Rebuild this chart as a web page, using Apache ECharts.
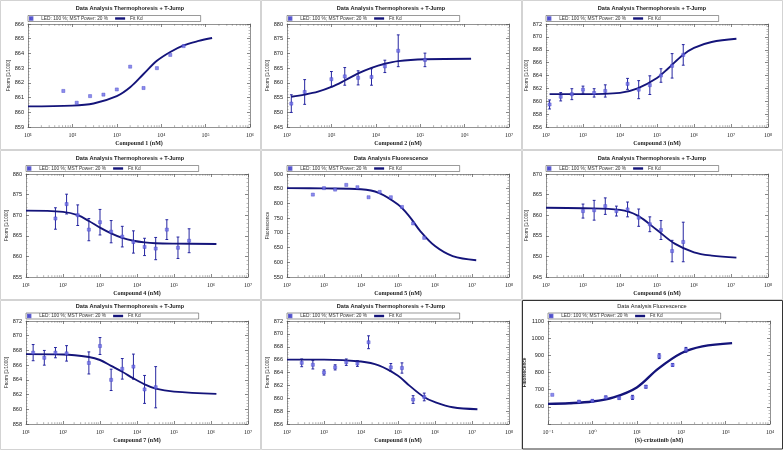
<!DOCTYPE html>
<html><head><meta charset="utf-8">
<script src="https://cdn.jsdelivr.net/npm/echarts@6/dist/echarts.min.js"></script>
<style>html,body{margin:0;padding:0;background:#fff}#c{width:783px;height:450px}</style>
</head><body><div id="c"></div>
<script>
// ---------- data ----------
const titles = ['Data Analysis Thermophoresis + T-Jump','Data Analysis Thermophoresis + T-Jump','Data Analysis Thermophoresis + T-Jump',
  'Data Analysis Thermophoresis + T-Jump','Data Analysis Fluorescence','Data Analysis Thermophoresis + T-Jump',
  'Data Analysis Thermophoresis + T-Jump','Data Analysis Thermophoresis + T-Jump','Data Analysis Fluorescence'];
const xNames = ['Compound 1 (nM)','Compound 2 (nM)','Compound 3 (nM)','Compound 4 (nM)','Compound 5 (nM)',
  'Compound 6 (nM)','Compound 7 (nM)','Compound 8 (nM)','(S)-crizotinib (nM)'];
const yNames = ['Fnorm [1/1000]','Fnorm [1/1000]','Fnorm [1/1000]','Fnorm [1/1000]','Fluorescence',
  'Fnorm [1/1000]','Fnorm [1/1000]','Fnorm [1/1000]','Fluorescence'];
const xMin = [1e1, 1e2, 1e2, 1e1, 1e2, 1e2, 1e1, 1e2, 1e-1];
const xMax = [1e6, 1e7, 1e8, 1e7, 1e8, 1e8, 1e7, 1e8, 1e4];
const yMin = [859, 845, 856, 855, 550, 845, 858, 856, 500];
const yMax = [866, 880, 872, 880, 900, 870, 872, 872, 1100];
const yStep = [1, 5, 2, 5, 50, 5, 2, 2, 100];

const c1X = [62.5, 125, 250, 500, 1000, 2000, 4000, 8000, 16000, 32000];
const c1Y = [861.45, 860.65, 861.1, 861.2, 861.55, 863.1, 861.65, 863.0, 863.9, 864.5];
const c1E = [];
const c1FitX = [10, 100, 300, 1000, 2000, 4000, 8000, 16000, 32000, 70000, 140000];
const c1FitY = [860.4, 860.45, 860.6, 861.1, 861.7, 862.6, 863.5, 864.1, 864.55, 864.85, 865.05];

const c2X = [125, 250, 1000, 2000, 4000, 8000, 16000, 32000, 128000];
const c2Y = [852.95, 856.9, 861.25, 862.2, 861.7, 862.0, 865.6, 870.9, 867.8];
const c2E = [3.0, 4.2, 2.6, 3.0, 2.4, 2.8, 2.1, 5.4, 2.3];
const c2FitX = [125, 250, 500, 1000, 2000, 4000, 8000, 16000, 32000, 128000, 1400000];
const c2FitY = [855.3, 856.0, 857.0, 858.6, 860.8, 863.2, 865.1, 866.5, 867.4, 868.0, 868.2];

const c3X = [125, 250, 500, 1000, 2000, 4000, 16000, 32000, 64000, 128000, 256000, 512000];
const c3Y = [859.5, 860.7, 861.1, 861.8, 861.3, 861.6, 862.7, 861.8, 862.5, 864.0, 865.5, 867.2];
const c3E = [0.7, 0.65, 0.85, 0.55, 0.65, 0.95, 0.85, 1.4, 1.45, 1.05, 1.9, 1.6];
const c3FitX = [125, 1000, 10000, 30000, 100000, 200000, 500000, 1000000, 3000000, 14000000];
const c3FitY = [861.1, 861.1, 861.3, 862.0, 863.6, 865.1, 867.2, 868.3, 869.2, 869.7];

const c4X = [62.5, 125, 250, 500, 1000, 2000, 4000, 8000, 16000, 32000, 64000, 128000, 256000];
const c4Y = [869.2, 872.7, 870.0, 866.5, 868.3, 866.0, 864.8, 863.5, 862.3, 861.9, 866.5, 862.1, 863.8];
const c4E = [2.6, 2.4, 2.5, 2.7, 3.1, 2.7, 2.5, 2.7, 2.1, 2.7, 2.4, 2.6, 2.9];
const c4FitX = [10, 100, 250, 500, 1000, 2000, 4000, 8000, 16000, 32000, 100000, 1400000];
const c4FitY = [871.1, 870.8, 870.0, 868.6, 867.0, 865.6, 864.5, 863.8, 863.4, 863.2, 863.1, 863.0];

const c5X = [500, 1000, 2000, 4000, 8000, 16000, 32000, 64000, 128000, 256000, 512000];
const c5Y = [830, 852, 847, 863, 855, 821, 839, 821, 788, 732, 683];
const c5E = [];
const c5FitX = [100, 1000, 10000, 30000, 100000, 200000, 400000, 1000000, 3000000, 13000000];
const c5FitY = [852, 851, 848, 836, 796, 757, 706, 655, 621, 607];

const c6X = [1000, 2000, 4000, 8000, 16000, 32000, 64000, 128000, 256000, 512000];
const c6Y = [861.0, 861.2, 862.2, 861.0, 861.4, 859.4, 857.8, 856.4, 851.3, 853.5];
const c6E = [1.7, 2.4, 2.0, 1.2, 1.8, 2.1, 1.8, 2.3, 2.6, 4.8];
const c6FitX = [100, 1000, 10000, 30000, 100000, 300000, 1000000, 3000000, 14000000];
const c6FitY = [861.8, 861.7, 861.3, 859.9, 856.4, 853.1, 851.0, 850.2, 849.7];

const c7X = [15.6, 31.25, 62.5, 125, 500, 1000, 2000, 4000, 8000, 16000, 32000];
const c7Y = [867.7, 867.0, 867.7, 867.6, 866.3, 868.6, 864.0, 865.5, 865.8, 862.7, 863.0];
const c7E = [1.1, 1.0, 0.7, 1.05, 1.5, 1.15, 1.45, 1.4, 1.7, 1.9, 2.8];
const c7FitX = [10, 100, 500, 1000, 2000, 4000, 8000, 16000, 32000, 100000, 1400000];
const c7FitY = [867.5, 867.45, 867.1, 866.7, 865.9, 865.1, 864.2, 863.4, 862.8, 862.4, 862.1];

const c8X = [250, 500, 1000, 2000, 4000, 8000, 16000, 64000, 128000, 256000, 512000];
const c8Y = [865.5, 865.2, 864.0, 864.8, 865.6, 865.4, 868.7, 864.8, 864.7, 859.8, 860.2];
const c8E = [0.6, 0.65, 0.4, 0.4, 0.5, 0.45, 1.0, 0.6, 0.8, 0.6, 0.6];
const c8FitX = [100, 1000, 10000, 30000, 100000, 200000, 500000, 1000000, 3000000, 14000000];
const c8FitY = [866.0, 866.0, 865.7, 865.1, 863.5, 862.0, 860.2, 859.4, 858.6, 858.3];

const c9X = [0.125, 0.5, 1, 2, 4, 8, 16, 32, 64, 128];
const c9Y = [670, 631, 635, 655, 651, 655, 717, 895, 844, 932];
const c9E = [0, 5, 6, 8, 6, 12, 8, 14, 8, 14];
const c9FitX = [0.1, 0.3, 1, 3, 10, 30, 100, 300, 1400];
const c9FitY = [617, 621, 631, 655, 713, 821, 912, 952, 971];

const allX = [c1X,c2X,c3X,c4X,c5X,c6X,c7X,c8X,c9X];
const allY = [c1Y,c2Y,c3Y,c4Y,c5Y,c6Y,c7Y,c8Y,c9Y];
const allE = [c1E,c2E,c3E,c4E,c5E,c6E,c7E,c8E,c9E];
const allFX = [c1FitX,c2FitX,c3FitX,c4FitX,c5FitX,c6FitX,c7FitX,c8FitX,c9FitX];
const allFY = [c1FitY,c2FitY,c3FitY,c4FitY,c5FitY,c6FitY,c7FitY,c8FitY,c9FitY];

// ---------- layout/style ----------
const gridLeft = [28, 26, 24, 26, 26, 24, 26, 26, 26];
const SANS = "'Liberation Sans', Arial, sans-serif";
const SERIF = "'Liberation Serif', 'DejaVu Serif', serif";
const SUP = {'0':'⁰','1':'¹','2':'²','3':'³','4':'⁴','5':'⁵','6':'⁶','7':'⁷','8':'⁸','9':'⁹','-':'⁻'};
const supStr = n => String(n).split('').map(c => SUP[c]).join('');
const SNAME = 'LED: 100 %; MST Power: 20 %';
const FNAME = 'Fit Kd';
const ptColor = '#7070e8', errColor = '#2525a0', fitColor = '#14147a', axColor = '#777';

const opt = {animation:false, backgroundColor:'#fff', title:[], legend:[], grid:[], xAxis:[], yAxis:[], series:[], graphic:[]};

for (let i = 0; i < 9; i++) {
  const col = i % 3, row = Math.floor(i / 3);
  const ox = col * 261, oy = row * 150;
  const gl = gridLeft[i], gt = row === 2 ? 21 : 24;
  const last = i === 8;
  opt.graphic.push({type:'rect', silent:true, z:-1,
    shape:{x: ox + 0.5, y: oy + 0.5, width: 260, height: last ? 148.5 : 149},
    style:{fill:'none', stroke: last ? '#333' : '#c8c8c8', lineWidth: last ? 1 : 0.8}});
  opt.title.push({text: titles[i], left: ox + 130, top: oy + (row === 2 ? 3 : 5.5), textAlign:'center', padding:0,
    textStyle:{fontSize:5.6, fontWeight: last ? 'normal' : 'bold', fontFamily:SANS, color:'#222'}});
  opt.legend.push({left: ox + gl, top: oy + (row === 2 ? 13 : 15.5), orient:'horizontal',
    itemWidth:10, itemHeight:2.4, itemGap:7, padding:[0.5, 58, 0.5, 1],
    borderColor:'#555', borderWidth:0.6, selectedMode:false,
    textStyle:{fontSize:4.8, color:'#333', fontFamily:SANS},
    data:[{name:SNAME, icon:'path://M0 0H10V10H0Z', itemStyle:{color:ptColor}},
          {name:FNAME, icon:'rect', itemStyle:{color:fitColor}}]});
  opt.grid.push({left: ox + gl, top: oy + gt, width: 222, height: 103});
  const xBase = {gridIndex:i, type:'log', logBase:10, min:xMin[i], max:xMax[i],
    axisLine:{show:true, lineStyle:{color:axColor, width:0.8}},
    axisTick:{show:true, inside:true, length:3, lineStyle:{color:'#555', width:0.7}},
    splitLine:{show:false}};
  opt.xAxis.push(Object.assign({}, xBase, {position:'bottom',
    axisLabel:{fontFamily:SERIF, fontSize:6, color:'#222', margin:5,
      formatter: v => '10' + supStr(Math.round(Math.log10(v)))},
    name:xNames[i], nameLocation:'middle', nameGap:13,
    nameTextStyle:{fontFamily:SERIF, fontWeight:'bold', fontSize:6, color:'#222'}}));
  opt.xAxis.push(Object.assign({}, xBase, {position:'top', axisLabel:{show:false}}));
  const yBase = {gridIndex:i, type:'value', min:yMin[i], max:yMax[i], interval:yStep[i],
    axisLine:{show:true, lineStyle:{color:axColor, width:0.8}},
    axisTick:{show:true, inside:true, length:3, lineStyle:{color:'#555', width:0.7}},
    minorTick:{show:true, splitNumber:5, length:1.5, lineStyle:{color:'#777', width:0.5}},
    splitLine:{show:false}};
  opt.yAxis.push(Object.assign({}, yBase, {position:'left',
    axisLabel:{fontFamily:SANS, fontSize:5.6, color:'#222', margin:4, showMinLabel: !last,
      formatter: v => String(v)},
    name:yNames[i], nameLocation:'middle', nameGap: last ? 18 : 17,
    nameTextStyle:{fontFamily:SANS, fontSize:4.6, color:'#222', fontWeight: last ? 'bold' : 'normal'}}));
  opt.yAxis.push(Object.assign({}, yBase, {position:'right', axisLabel:{show:false}}));

  const xi = 2 * i, yi = 2 * i;
  // minor log ticks (axis decoration)
  const minor = [];
  for (let d = Math.round(Math.log10(xMin[i])); d < Math.round(Math.log10(xMax[i])); d++)
    for (let k = 2; k <= 9; k++) minor.push([k * Math.pow(10, d), yMin[i]]);
  const ymn = yMin[i], ymx = yMax[i];
  opt.series.push({type:'custom', xAxisIndex:xi, yAxisIndex:yi, silent:true, data:minor,
    renderItem:(p, api) => {
      const v = api.value(0);
      const b = api.coord([v, ymn]), t = api.coord([v, ymx]);
      const st = {stroke:'#666', lineWidth:0.5};
      return {type:'group', children:[
        {type:'line', shape:{x1:b[0], y1:b[1], x2:b[0], y2:b[1] - 1.8}, style:st},
        {type:'line', shape:{x1:t[0], y1:t[1], x2:t[0], y2:t[1] + 1.8}, style:st}]};
    }});
  // error bars
  const E = allE[i];
  if (E.length) {
    const ed = allX[i].map((x, j) => [x, allY[i][j], E[j]]);
    opt.series.push({type:'custom', xAxisIndex:xi, yAxisIndex:yi, silent:true, data:ed, z:3,
      renderItem:(p, api) => {
        const x = api.value(0), y = api.value(1), e = api.value(2);
        if (!e) return null;
        const a = api.coord([x, y + e]), b = api.coord([x, y - e]);
        const st = {stroke:errColor, lineWidth:1};
        return {type:'group', children:[
          {type:'line', shape:{x1:a[0], y1:a[1], x2:b[0], y2:b[1]}, style:st},
          {type:'line', shape:{x1:a[0] - 1.4, y1:a[1], x2:a[0] + 1.4, y2:a[1]}, style:st},
          {type:'line', shape:{x1:b[0] - 1.4, y1:b[1], x2:b[0] + 1.4, y2:b[1]}, style:st}]};
      }});
  }
  // fit curve
  opt.series.push({type:'line', name:FNAME, xAxisIndex:xi, yAxisIndex:yi, z:4,
    data: allFX[i].map((x, j) => [x, allFY[i][j]]), smooth:0.35, showSymbol:false, symbol:'none',
    lineStyle:{color:fitColor, width: last ? 2.4 : 1.9}, itemStyle:{color:fitColor}});
  // points
  opt.series.push({type:'scatter', name:SNAME, xAxisIndex:xi, yAxisIndex:yi, z:5,
    data: allX[i].map((x, j) => [x, allY[i][j]]), symbol:'rect', symbolSize:3.1,
    itemStyle:{color:ptColor, borderColor:'#3c3cc4', borderWidth:0.5}});
}

const chart = echarts.init(document.getElementById('c'), null, {renderer:'canvas'});
chart.setOption(opt);
</script></body></html>
